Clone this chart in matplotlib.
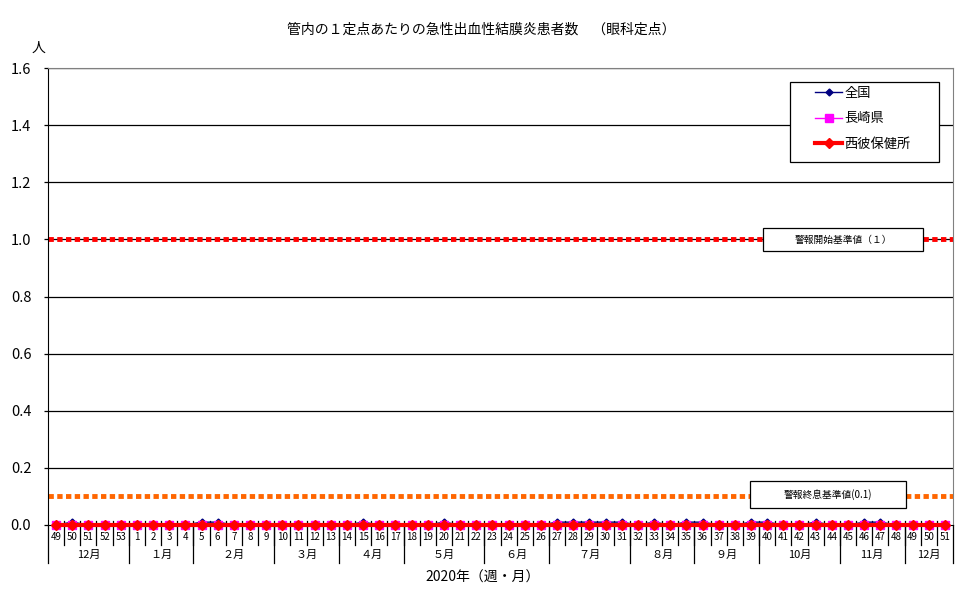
import matplotlib
matplotlib.use('Agg')
import matplotlib.pyplot as plt
import matplotlib.transforms as mtransforms
from matplotlib.patches import Rectangle
import numpy as np

plt.rcParams['font.family'] = ['Noto Sans CJK JP', 'DejaVu Sans']

# week labels (Dec 2019 wk49 .. Dec 2020 wk51)
weeks = ['49', '50', '51', '52', '53',
         '1', '2', '3', '4', '5', '6', '7', '8', '9', '10',
         '11', '12', '13', '14', '15', '16', '17', '18', '19', '20',
         '21', '22', '23', '24', '25', '26', '27', '28', '29', '30',
         '31', '32', '33', '34', '35', '36', '37', '38', '39', '40',
         '41', '42', '43', '44', '45', '46', '47', '48', '49', '50', '51']

months = ['12月', '１月', '２月', '３月', '４月', '５月', '６月',
          '７月', '８月', '９月', '10月', '11月', '12月']
month_weeks = [5, 4, 5, 4, 4, 5, 4, 5, 4, 4, 5, 4, 3]

# per-sentinel counts
national = [0.00, 0.01, 0.00, 0.00, 0.00,
            0.00, 0.00, 0.00, 0.00, 0.01, 0.01, 0.00, 0.00, 0.00, 0.00,
            0.00, 0.00, 0.00, 0.00, 0.01, 0.00, 0.00, 0.00, 0.00, 0.01,
            0.00, 0.00, 0.00, 0.00, 0.00, 0.00, 0.01, 0.01, 0.01, 0.01,
            0.01, 0.00, 0.01, 0.00, 0.01, 0.01, 0.00, 0.00, 0.01, 0.01,
            0.00, 0.00, 0.01, 0.00, 0.00, 0.01, 0.01, 0.00, 0.00, 0.00, 0.00]
nagasaki = [0.00, 0.00, 0.00, 0.00, 0.00,
            0.00, 0.00, 0.00, 0.00, 0.00, 0.00, 0.00, 0.00, 0.00, 0.00,
            0.00, 0.00, 0.00, 0.00, 0.00, 0.00, 0.00, 0.00, 0.00, 0.00,
            0.00, 0.00, 0.00, 0.00, 0.00, 0.00, 0.00, 0.00, 0.00, 0.00,
            0.00, 0.00, 0.00, 0.00, 0.00, 0.00, 0.00, 0.00, 0.00, 0.00,
            0.00, 0.00, 0.00, 0.00, 0.00, 0.00, 0.00, 0.00, 0.00, 0.00, 0.00]
seihi = [0.00, 0.00, 0.00, 0.00, 0.00,
         0.00, 0.00, 0.00, 0.00, 0.00, 0.00, 0.00, 0.00, 0.00, 0.00,
         0.00, 0.00, 0.00, 0.00, 0.00, 0.00, 0.00, 0.00, 0.00, 0.00,
         0.00, 0.00, 0.00, 0.00, 0.00, 0.00, 0.00, 0.00, 0.00, 0.00,
         0.00, 0.00, 0.00, 0.00, 0.00, 0.00, 0.00, 0.00, 0.00, 0.00,
         0.00, 0.00, 0.00, 0.00, 0.00, 0.00, 0.00, 0.00, 0.00, 0.00, 0.00]

alarm_start = 1.0
alarm_end = 0.1

n = len(weeks)
x = np.arange(n)

fig = plt.figure(figsize=(9.77, 6), dpi=100)
ax = fig.add_axes([48 / 977, 75 / 600, 905 / 977, 457 / 600])

ax.set_xlim(-0.5, n - 0.5)
ax.set_ylim(0, 1.6)

# grid
for yv in np.arange(0.2, 1.61, 0.2):
    ax.axhline(yv, color='black', lw=0.9, zorder=1)

# threshold lines
ax.plot([-0.5, n - 0.5], [alarm_start, alarm_start], color='#ff0000', lw=3.5,
        dashes=(1.1, 0.7), solid_capstyle='butt', dash_capstyle='butt',
        zorder=2, clip_on=False)
ax.plot([-0.5, n - 0.5], [alarm_end, alarm_end], color='#ff6600', lw=3.5,
        dashes=(1.1, 0.7), dash_capstyle='butt', zorder=2)

# series
ax.plot(x, national, color='#000080', lw=1, marker='D', ms=3.5, zorder=4,
        clip_on=False, label='全国')
ax.plot(x, nagasaki, color='#ff00ff', lw=1, marker='s', ms=6, zorder=5,
        clip_on=False, label='長崎県')
ax.plot(x, seihi, color='#ff0000', lw=3, marker='D', ms=5.5, zorder=6,
        clip_on=False, label='西彼保健所')

# threshold labels
ax.add_patch(Rectangle((43.75, 0.959), 9.9, 0.081, facecolor='white',
                       edgecolor='black', lw=0.9, zorder=7))
ax.text(43.75 + 4.95, 0.9995, '警報開始基準値（１）', ha='center', va='center',
        fontsize=7, zorder=8)
ax.add_patch(Rectangle((42.94, 0.0595), 9.66, 0.0945, facecolor='white',
                       edgecolor='black', lw=0.9, zorder=7))
ax.text(42.94 + 4.83, 0.107, '警報終息基準値(0.1)', ha='center', va='center',
        fontsize=7, zorder=8)

# legend box
ax.add_patch(Rectangle((0.82, 0.794), 0.1645, 0.175, transform=ax.transAxes,
                       facecolor='white', edgecolor='black', lw=0.9, zorder=9))
leg = ax.legend(loc='upper left', bbox_to_anchor=(0.845, 0.965), frameon=False,
                fontsize=9.5, handlelength=2.0, handletextpad=0.2,
                labelspacing=0.95, borderpad=0.2, borderaxespad=0)
leg.set_zorder(10)

# spines
for s in ['top', 'right']:
    ax.spines[s].set_color('#808080')
for s in ['left', 'bottom']:
    ax.spines[s].set_color('black')

# y axis
ax.set_yticks(np.arange(0, 1.61, 0.2))
ax.set_yticklabels(['%.1f' % v for v in np.arange(0, 1.61, 0.2)], fontsize=10.5)
ax.tick_params(axis='y', length=3, width=0.9, pad=9)
ax.text(-0.01, 1.045, '人', transform=ax.transAxes, ha='center', va='center',
        fontsize=10)

# x axis: multi-level category labels
ax.set_xticks([])
trans = mtransforms.blended_transform_factory(ax.transData, ax.transAxes)
for i in range(n):
    ax.text(i, -0.027, weeks[i], transform=trans, ha='center', va='center',
            fontsize=7)
for i in range(1, n):
    ax.plot([i - 0.5, i - 0.5], [0.008, -0.044], color='black', lw=0.9,
            transform=trans, clip_on=False)
start = 0
for m, cnt in zip(months, month_weeks):
    ax.text(start + cnt / 2 - 0.5, -0.066, m, transform=trans, ha='center',
            va='center', fontsize=8)
    start += cnt
    ax.plot([start - 0.5, start - 0.5], [0, -0.083], color='black', lw=0.9,
            transform=trans, clip_on=False)
ax.plot([-0.5, -0.5], [0, -0.083], color='black', lw=0.9, transform=trans,
        clip_on=False)

ax.text(0.48, -0.116, '2020年（週・月）', transform=ax.transAxes, ha='center',
        va='center', fontsize=10)

fig.text(481 / 977, 1 - 30 / 600,
         '管内の１定点あたりの急性出血性結膜炎患者数　（眼科定点）',
         ha='center', va='center', fontsize=10)

fig.savefig('out.png', dpi=100)
